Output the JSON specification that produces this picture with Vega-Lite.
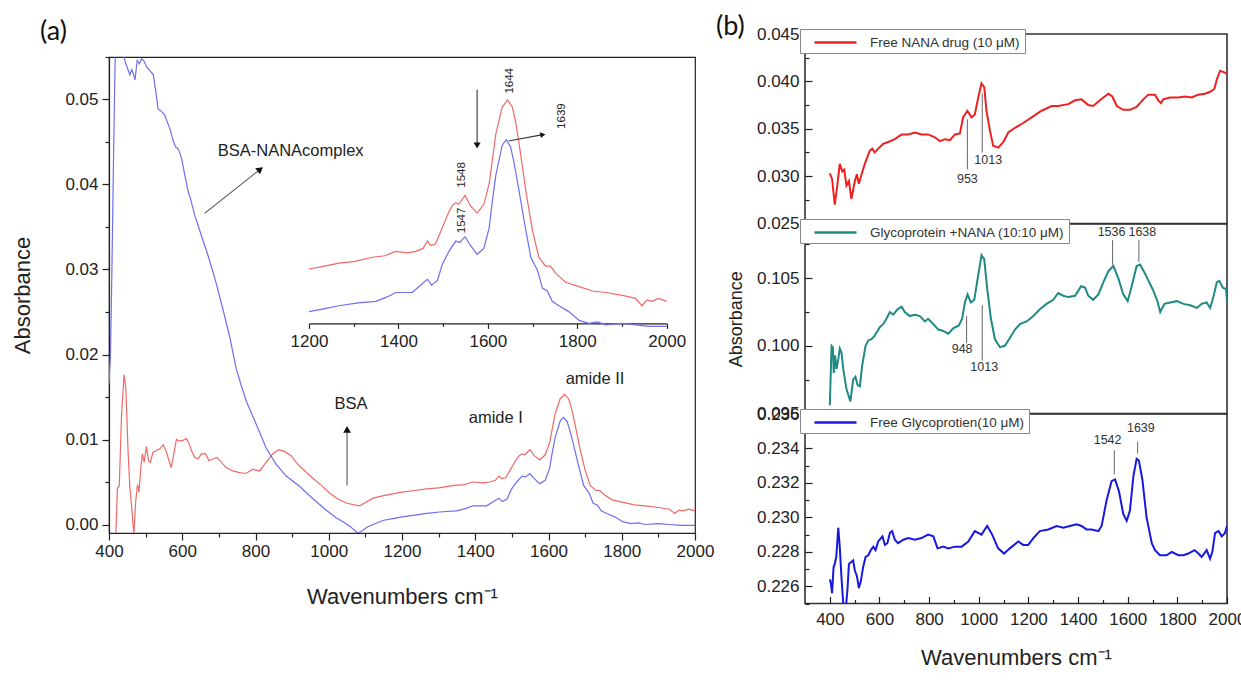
{
  "$schema": "https://vega.github.io/schema/vega-lite/v6.json",
  "background": "white",
  "padding": {"left": 11, "top": 12, "right": 0, "bottom": 0},
  "spacing": 0,
  "bounds": "full",
  "align": "none",
  "config": {
    "font": "Liberation Sans",
    "view": {"stroke": "#222", "strokeWidth": 1.2},
    "axis": {"grid": false, "domainColor": "#222", "tickColor": "#222", "labelColor": "#222", "titleColor": "#222", "labelFont": "Liberation Sans", "titleFont": "Liberation Sans", "titleFontWeight": "normal", "labelFlush": false, "labelOverlap": false, "domainWidth": 1.2, "tickWidth": 1.2},
    "title": {"fontWeight": "normal", "color": "#111"}
  },
  "datasets": {
    "spec_a": [
      {"series": "BSA", "wn": 418, "abs": -0.002},
      {"series": "BSA", "wn": 423, "abs": 0.0043},
      {"series": "BSA", "wn": 428, "abs": 0.0045},
      {"series": "BSA", "wn": 434, "abs": 0.0126},
      {"series": "BSA", "wn": 441, "abs": 0.0176},
      {"series": "BSA", "wn": 446, "abs": 0.0160},
      {"series": "BSA", "wn": 452, "abs": 0.0087},
      {"series": "BSA", "wn": 457, "abs": 0.0043},
      {"series": "BSA", "wn": 462, "abs": 0.0020},
      {"series": "BSA", "wn": 468, "abs": -0.0012},
      {"series": "BSA", "wn": 473, "abs": 0.0028},
      {"series": "BSA", "wn": 478, "abs": 0.0047},
      {"series": "BSA", "wn": 482, "abs": 0.0038},
      {"series": "BSA", "wn": 487, "abs": 0.0067},
      {"series": "BSA", "wn": 491, "abs": 0.0083},
      {"series": "BSA", "wn": 496, "abs": 0.0073},
      {"series": "BSA", "wn": 502, "abs": 0.0092},
      {"series": "BSA", "wn": 508, "abs": 0.0075},
      {"series": "BSA", "wn": 513, "abs": 0.0073},
      {"series": "BSA", "wn": 520, "abs": 0.0085},
      {"series": "BSA", "wn": 530, "abs": 0.0087},
      {"series": "BSA", "wn": 539, "abs": 0.0089},
      {"series": "BSA", "wn": 548, "abs": 0.0094},
      {"series": "BSA", "wn": 557, "abs": 0.0085},
      {"series": "BSA", "wn": 564, "abs": 0.0075},
      {"series": "BSA", "wn": 570, "abs": 0.0067},
      {"series": "BSA", "wn": 577, "abs": 0.0083},
      {"series": "BSA", "wn": 584, "abs": 0.0100},
      {"series": "BSA", "wn": 593, "abs": 0.0098},
      {"series": "BSA", "wn": 602, "abs": 0.0099},
      {"series": "BSA", "wn": 611, "abs": 0.0101},
      {"series": "BSA", "wn": 618, "abs": 0.0096},
      {"series": "BSA", "wn": 625, "abs": 0.0087},
      {"series": "BSA", "wn": 634, "abs": 0.0079},
      {"series": "BSA", "wn": 643, "abs": 0.0077},
      {"series": "BSA", "wn": 652, "abs": 0.0083},
      {"series": "BSA", "wn": 664, "abs": 0.0083},
      {"series": "BSA", "wn": 673, "abs": 0.0075},
      {"series": "BSA", "wn": 684, "abs": 0.0077},
      {"series": "BSA", "wn": 695, "abs": 0.0079},
      {"series": "BSA", "wn": 707, "abs": 0.0073},
      {"series": "BSA", "wn": 720, "abs": 0.0067},
      {"series": "BSA", "wn": 738, "abs": 0.0063},
      {"series": "BSA", "wn": 756, "abs": 0.0061},
      {"series": "BSA", "wn": 774, "abs": 0.0060},
      {"series": "BSA", "wn": 793, "abs": 0.0065},
      {"series": "BSA", "wn": 811, "abs": 0.0063},
      {"series": "BSA", "wn": 829, "abs": 0.0073},
      {"series": "BSA", "wn": 847, "abs": 0.0083},
      {"series": "BSA", "wn": 863, "abs": 0.0088},
      {"series": "BSA", "wn": 879, "abs": 0.0086},
      {"series": "BSA", "wn": 897, "abs": 0.0081},
      {"series": "BSA", "wn": 915, "abs": 0.0071},
      {"series": "BSA", "wn": 935, "abs": 0.0063},
      {"series": "BSA", "wn": 955, "abs": 0.0055},
      {"series": "BSA", "wn": 980, "abs": 0.0046},
      {"series": "BSA", "wn": 1002, "abs": 0.0037},
      {"series": "BSA", "wn": 1025, "abs": 0.0030},
      {"series": "BSA", "wn": 1050, "abs": 0.0025},
      {"series": "BSA", "wn": 1070, "abs": 0.0023},
      {"series": "BSA", "wn": 1085, "abs": 0.0022},
      {"series": "BSA", "wn": 1100, "abs": 0.0026},
      {"series": "BSA", "wn": 1121, "abs": 0.0031},
      {"series": "BSA", "wn": 1150, "abs": 0.0034},
      {"series": "BSA", "wn": 1175, "abs": 0.0036},
      {"series": "BSA", "wn": 1200, "abs": 0.0038},
      {"series": "BSA", "wn": 1235, "abs": 0.0040},
      {"series": "BSA", "wn": 1267, "abs": 0.0042},
      {"series": "BSA", "wn": 1300, "abs": 0.0043},
      {"series": "BSA", "wn": 1342, "abs": 0.0046},
      {"series": "BSA", "wn": 1370, "abs": 0.0047},
      {"series": "BSA", "wn": 1394, "abs": 0.0050},
      {"series": "BSA", "wn": 1420, "abs": 0.0049},
      {"series": "BSA", "wn": 1439, "abs": 0.0050},
      {"series": "BSA", "wn": 1455, "abs": 0.0052},
      {"series": "BSA", "wn": 1465, "abs": 0.0057},
      {"series": "BSA", "wn": 1472, "abs": 0.0054},
      {"series": "BSA", "wn": 1483, "abs": 0.0055},
      {"series": "BSA", "wn": 1498, "abs": 0.0066},
      {"series": "BSA", "wn": 1513, "abs": 0.0077},
      {"series": "BSA", "wn": 1520, "abs": 0.0081},
      {"series": "BSA", "wn": 1528, "abs": 0.0083},
      {"series": "BSA", "wn": 1535, "abs": 0.0082},
      {"series": "BSA", "wn": 1549, "abs": 0.0088},
      {"series": "BSA", "wn": 1561, "abs": 0.0081},
      {"series": "BSA", "wn": 1576, "abs": 0.0076},
      {"series": "BSA", "wn": 1591, "abs": 0.0082},
      {"series": "BSA", "wn": 1603, "abs": 0.0096},
      {"series": "BSA", "wn": 1610, "abs": 0.0112},
      {"series": "BSA", "wn": 1618, "abs": 0.0130},
      {"series": "BSA", "wn": 1632, "abs": 0.0148},
      {"series": "BSA", "wn": 1644, "abs": 0.0153},
      {"series": "BSA", "wn": 1655, "abs": 0.0148},
      {"series": "BSA", "wn": 1662, "abs": 0.0138},
      {"series": "BSA", "wn": 1670, "abs": 0.0123},
      {"series": "BSA", "wn": 1685, "abs": 0.0091},
      {"series": "BSA", "wn": 1700, "abs": 0.0064},
      {"series": "BSA", "wn": 1714, "abs": 0.0046},
      {"series": "BSA", "wn": 1729, "abs": 0.0040},
      {"series": "BSA", "wn": 1740, "abs": 0.0040},
      {"series": "BSA", "wn": 1752, "abs": 0.0035},
      {"series": "BSA", "wn": 1774, "abs": 0.0029},
      {"series": "BSA", "wn": 1804, "abs": 0.0026},
      {"series": "BSA", "wn": 1834, "abs": 0.0023},
      {"series": "BSA", "wn": 1864, "abs": 0.0022},
      {"series": "BSA", "wn": 1901, "abs": 0.0020},
      {"series": "BSA", "wn": 1930, "abs": 0.0018},
      {"series": "BSA", "wn": 1945, "abs": 0.0013},
      {"series": "BSA", "wn": 1956, "abs": 0.0017},
      {"series": "BSA", "wn": 1967, "abs": 0.0016},
      {"series": "BSA", "wn": 1982, "abs": 0.0018},
      {"series": "BSA", "wn": 2000, "abs": 0.0016},
      {"series": "BSA-NANA complex", "wn": 400, "abs": 0.0165},
      {"series": "BSA-NANA complex", "wn": 404, "abs": 0.020},
      {"series": "BSA-NANA complex", "wn": 408, "abs": 0.030},
      {"series": "BSA-NANA complex", "wn": 412, "abs": 0.042},
      {"series": "BSA-NANA complex", "wn": 416, "abs": 0.053},
      {"series": "BSA-NANA complex", "wn": 420, "abs": 0.060},
      {"series": "BSA-NANA complex", "wn": 430, "abs": 0.057},
      {"series": "BSA-NANA complex", "wn": 438, "abs": 0.0555},
      {"series": "BSA-NANA complex", "wn": 446, "abs": 0.0542},
      {"series": "BSA-NANA complex", "wn": 452, "abs": 0.0535},
      {"series": "BSA-NANA complex", "wn": 457, "abs": 0.0529},
      {"series": "BSA-NANA complex", "wn": 462, "abs": 0.0535},
      {"series": "BSA-NANA complex", "wn": 466, "abs": 0.0531},
      {"series": "BSA-NANA complex", "wn": 471, "abs": 0.0523},
      {"series": "BSA-NANA complex", "wn": 477, "abs": 0.0546},
      {"series": "BSA-NANA complex", "wn": 483, "abs": 0.0542},
      {"series": "BSA-NANA complex", "wn": 489, "abs": 0.0548},
      {"series": "BSA-NANA complex", "wn": 496, "abs": 0.0545},
      {"series": "BSA-NANA complex", "wn": 503, "abs": 0.0538},
      {"series": "BSA-NANA complex", "wn": 512, "abs": 0.0534},
      {"series": "BSA-NANA complex", "wn": 521, "abs": 0.0529},
      {"series": "BSA-NANA complex", "wn": 528, "abs": 0.0509},
      {"series": "BSA-NANA complex", "wn": 534, "abs": 0.0489},
      {"series": "BSA-NANA complex", "wn": 543, "abs": 0.0486},
      {"series": "BSA-NANA complex", "wn": 552, "abs": 0.0482},
      {"series": "BSA-NANA complex", "wn": 557, "abs": 0.0476},
      {"series": "BSA-NANA complex", "wn": 566, "abs": 0.0466},
      {"series": "BSA-NANA complex", "wn": 575, "abs": 0.0452},
      {"series": "BSA-NANA complex", "wn": 582, "abs": 0.0444},
      {"series": "BSA-NANA complex", "wn": 589, "abs": 0.0442},
      {"series": "BSA-NANA complex", "wn": 598, "abs": 0.0431},
      {"series": "BSA-NANA complex", "wn": 607, "abs": 0.0411},
      {"series": "BSA-NANA complex", "wn": 616, "abs": 0.0392},
      {"series": "BSA-NANA complex", "wn": 622, "abs": 0.0384},
      {"series": "BSA-NANA complex", "wn": 634, "abs": 0.0364},
      {"series": "BSA-NANA complex", "wn": 650, "abs": 0.0343},
      {"series": "BSA-NANA complex", "wn": 670, "abs": 0.0317},
      {"series": "BSA-NANA complex", "wn": 690, "abs": 0.0288},
      {"series": "BSA-NANA complex", "wn": 710, "abs": 0.0255},
      {"series": "BSA-NANA complex", "wn": 730, "abs": 0.0220},
      {"series": "BSA-NANA complex", "wn": 747, "abs": 0.0184},
      {"series": "BSA-NANA complex", "wn": 760, "abs": 0.0165},
      {"series": "BSA-NANA complex", "wn": 775, "abs": 0.0145},
      {"series": "BSA-NANA complex", "wn": 802, "abs": 0.0118},
      {"series": "BSA-NANA complex", "wn": 829, "abs": 0.0090},
      {"series": "BSA-NANA complex", "wn": 856, "abs": 0.0071},
      {"series": "BSA-NANA complex", "wn": 884, "abs": 0.0057},
      {"series": "BSA-NANA complex", "wn": 920, "abs": 0.0045},
      {"series": "BSA-NANA complex", "wn": 950, "abs": 0.0033},
      {"series": "BSA-NANA complex", "wn": 990, "abs": 0.0018},
      {"series": "BSA-NANA complex", "wn": 1020, "abs": 0.0008},
      {"series": "BSA-NANA complex", "wn": 1040, "abs": 0.0003},
      {"series": "BSA-NANA complex", "wn": 1060, "abs": -0.0003},
      {"series": "BSA-NANA complex", "wn": 1079, "abs": -0.0010},
      {"series": "BSA-NANA complex", "wn": 1090, "abs": -0.0008},
      {"series": "BSA-NANA complex", "wn": 1105, "abs": -0.0003},
      {"series": "BSA-NANA complex", "wn": 1121, "abs": 0.0000},
      {"series": "BSA-NANA complex", "wn": 1150, "abs": 0.0005},
      {"series": "BSA-NANA complex", "wn": 1175, "abs": 0.0007},
      {"series": "BSA-NANA complex", "wn": 1200, "abs": 0.0009},
      {"series": "BSA-NANA complex", "wn": 1235, "abs": 0.0011},
      {"series": "BSA-NANA complex", "wn": 1267, "abs": 0.0013},
      {"series": "BSA-NANA complex", "wn": 1310, "abs": 0.0015},
      {"series": "BSA-NANA complex", "wn": 1349, "abs": 0.0016},
      {"series": "BSA-NANA complex", "wn": 1375, "abs": 0.0019},
      {"series": "BSA-NANA complex", "wn": 1394, "abs": 0.0022},
      {"series": "BSA-NANA complex", "wn": 1431, "abs": 0.0022},
      {"series": "BSA-NANA complex", "wn": 1453, "abs": 0.0028},
      {"series": "BSA-NANA complex", "wn": 1465, "abs": 0.0031},
      {"series": "BSA-NANA complex", "wn": 1474, "abs": 0.0027},
      {"series": "BSA-NANA complex", "wn": 1487, "abs": 0.0030},
      {"series": "BSA-NANA complex", "wn": 1498, "abs": 0.0041},
      {"series": "BSA-NANA complex", "wn": 1513, "abs": 0.0050},
      {"series": "BSA-NANA complex", "wn": 1528, "abs": 0.0057},
      {"series": "BSA-NANA complex", "wn": 1537, "abs": 0.0056},
      {"series": "BSA-NANA complex", "wn": 1549, "abs": 0.0060},
      {"series": "BSA-NANA complex", "wn": 1561, "abs": 0.0054},
      {"series": "BSA-NANA complex", "wn": 1576, "abs": 0.0048},
      {"series": "BSA-NANA complex", "wn": 1591, "abs": 0.0052},
      {"series": "BSA-NANA complex", "wn": 1603, "abs": 0.0066},
      {"series": "BSA-NANA complex", "wn": 1610, "abs": 0.0084},
      {"series": "BSA-NANA complex", "wn": 1618, "abs": 0.0102},
      {"series": "BSA-NANA complex", "wn": 1632, "abs": 0.0122},
      {"series": "BSA-NANA complex", "wn": 1641, "abs": 0.0126},
      {"series": "BSA-NANA complex", "wn": 1651, "abs": 0.0121},
      {"series": "BSA-NANA complex", "wn": 1658, "abs": 0.0111},
      {"series": "BSA-NANA complex", "wn": 1666, "abs": 0.0098},
      {"series": "BSA-NANA complex", "wn": 1681, "abs": 0.0071},
      {"series": "BSA-NANA complex", "wn": 1696, "abs": 0.0046},
      {"series": "BSA-NANA complex", "wn": 1711, "abs": 0.0037},
      {"series": "BSA-NANA complex", "wn": 1722, "abs": 0.0025},
      {"series": "BSA-NANA complex", "wn": 1733, "abs": 0.0023},
      {"series": "BSA-NANA complex", "wn": 1744, "abs": 0.0016},
      {"series": "BSA-NANA complex", "wn": 1759, "abs": 0.0013},
      {"series": "BSA-NANA complex", "wn": 1781, "abs": 0.0009},
      {"series": "BSA-NANA complex", "wn": 1804, "abs": 0.0003},
      {"series": "BSA-NANA complex", "wn": 1826, "abs": 0.0001},
      {"series": "BSA-NANA complex", "wn": 1845, "abs": 0.0002},
      {"series": "BSA-NANA complex", "wn": 1864, "abs": 0.0000},
      {"series": "BSA-NANA complex", "wn": 1900, "abs": 0.0001},
      {"series": "BSA-NANA complex", "wn": 1930, "abs": 0.0000},
      {"series": "BSA-NANA complex", "wn": 1960, "abs": -0.0001},
      {"series": "BSA-NANA complex", "wn": 2000, "abs": -0.0001}
    ],
    "ann_a": [
      {"wn": 896, "abs": 0.0440, "t": "BSA-NANAcomplex"},
      {"wn": 1061, "abs": 0.0142, "t": "BSA"},
      {"wn": 1456, "abs": 0.0125, "t": "amide I"},
      {"wn": 1727, "abs": 0.0171, "t": "amide II"}
    ],
    "arrows_a": [
      {"id": "complex", "wn": 661, "abs": 0.0366, "wn2": 813, "abs2": 0.0418},
      {"id": "bsa", "wn": 1050, "abs": 0.0046, "wn2": 1050, "abs2": 0.0112}
    ],
    "heads_a": [
      {"id": "complex", "wn": 813, "abs": 0.0418},
      {"id": "bsa", "wn": 1050, "abs": 0.0112}
    ],
    "ann_inset": [
      {"wn": 1649, "abs": 0.0166, "t": "1644"},
      {"wn": 1766, "abs": 0.0142, "t": "1639"},
      {"wn": 1543, "abs": 0.0102, "t": "1548"},
      {"wn": 1543, "abs": 0.0071, "t": "1547"}
    ],
    "arrows_inset": [
      {"id": "down", "wn": 1576, "abs": 0.0160, "wn2": 1576, "abs2": 0.0122},
      {"id": "right", "wn": 1646.6, "abs": 0.01251, "wn2": 1723, "abs2": 0.01294}
    ],
    "heads_inset": [
      {"id": "down", "wn": 1576, "abs": 0.0122},
      {"id": "right", "wn": 1723, "abs": 0.01294}
    ],
    "b1": [
      {"wn": 400, "abs": 0.0303}, {"wn": 409, "abs": 0.0297}, {"wn": 420, "abs": 0.0270}, {"wn": 431, "abs": 0.0292},
      {"wn": 440, "abs": 0.0313}, {"wn": 450, "abs": 0.0305}, {"wn": 458, "abs": 0.0307}, {"wn": 467, "abs": 0.0290},
      {"wn": 477, "abs": 0.0295}, {"wn": 487, "abs": 0.0276}, {"wn": 501, "abs": 0.0295}, {"wn": 509, "abs": 0.0302},
      {"wn": 517, "abs": 0.0292}, {"wn": 528, "abs": 0.0302}, {"wn": 541, "abs": 0.0313}, {"wn": 561, "abs": 0.0327},
      {"wn": 571, "abs": 0.0329}, {"wn": 581, "abs": 0.0325}, {"wn": 595, "abs": 0.0329}, {"wn": 615, "abs": 0.0334},
      {"wn": 635, "abs": 0.0336}, {"wn": 662, "abs": 0.0339}, {"wn": 689, "abs": 0.0344}, {"wn": 716, "abs": 0.0344},
      {"wn": 743, "abs": 0.0346}, {"wn": 770, "abs": 0.0344}, {"wn": 796, "abs": 0.0344}, {"wn": 823, "abs": 0.0341},
      {"wn": 843, "abs": 0.0337}, {"wn": 864, "abs": 0.0339}, {"wn": 884, "abs": 0.0338}, {"wn": 904, "abs": 0.0344},
      {"wn": 924, "abs": 0.0345}, {"wn": 937, "abs": 0.0362}, {"wn": 954, "abs": 0.0369}, {"wn": 971, "abs": 0.0362},
      {"wn": 984, "abs": 0.0365}, {"wn": 998, "abs": 0.0383}, {"wn": 1011, "abs": 0.0398}, {"wn": 1022, "abs": 0.0394},
      {"wn": 1031, "abs": 0.0369}, {"wn": 1045, "abs": 0.0348}, {"wn": 1058, "abs": 0.0332}, {"wn": 1079, "abs": 0.0330},
      {"wn": 1099, "abs": 0.0336}, {"wn": 1119, "abs": 0.0346}, {"wn": 1146, "abs": 0.0351}, {"wn": 1173, "abs": 0.0355},
      {"wn": 1213, "abs": 0.0362}, {"wn": 1253, "abs": 0.0369}, {"wn": 1294, "abs": 0.0374}, {"wn": 1320, "abs": 0.0374},
      {"wn": 1361, "abs": 0.0376}, {"wn": 1388, "abs": 0.0380}, {"wn": 1414, "abs": 0.0381}, {"wn": 1441, "abs": 0.0375},
      {"wn": 1461, "abs": 0.0374}, {"wn": 1488, "abs": 0.0380}, {"wn": 1522, "abs": 0.0387}, {"wn": 1538, "abs": 0.0384},
      {"wn": 1556, "abs": 0.0374}, {"wn": 1582, "abs": 0.0370}, {"wn": 1609, "abs": 0.0370}, {"wn": 1636, "abs": 0.0373},
      {"wn": 1663, "abs": 0.0381}, {"wn": 1683, "abs": 0.0386}, {"wn": 1710, "abs": 0.0386}, {"wn": 1723, "abs": 0.0380},
      {"wn": 1734, "abs": 0.0377}, {"wn": 1743, "abs": 0.0381}, {"wn": 1770, "abs": 0.0383}, {"wn": 1804, "abs": 0.0383},
      {"wn": 1831, "abs": 0.0384}, {"wn": 1858, "abs": 0.0383}, {"wn": 1884, "abs": 0.0386}, {"wn": 1911, "abs": 0.0387},
      {"wn": 1932, "abs": 0.0389}, {"wn": 1949, "abs": 0.0392}, {"wn": 1959, "abs": 0.0402}, {"wn": 1972, "abs": 0.0411},
      {"wn": 1985, "abs": 0.0410}, {"wn": 1999, "abs": 0.0408}
    ],
    "b2": [
      {"wn": 400, "abs": 0.0956}, {"wn": 407, "abs": 0.1000}, {"wn": 412, "abs": 0.0999}, {"wn": 416, "abs": 0.0980},
      {"wn": 421, "abs": 0.0993}, {"wn": 427, "abs": 0.0983}, {"wn": 434, "abs": 0.0990}, {"wn": 440, "abs": 0.0998},
      {"wn": 447, "abs": 0.0995}, {"wn": 454, "abs": 0.0983}, {"wn": 467, "abs": 0.0968}, {"wn": 483, "abs": 0.0959},
      {"wn": 494, "abs": 0.0975}, {"wn": 503, "abs": 0.0977}, {"wn": 512, "abs": 0.0971}, {"wn": 521, "abs": 0.0970},
      {"wn": 530, "abs": 0.0985}, {"wn": 544, "abs": 0.1000}, {"wn": 555, "abs": 0.1004}, {"wn": 568, "abs": 0.1005},
      {"wn": 579, "abs": 0.1007}, {"wn": 592, "abs": 0.1011}, {"wn": 602, "abs": 0.1014}, {"wn": 615, "abs": 0.1016},
      {"wn": 628, "abs": 0.1020}, {"wn": 642, "abs": 0.1025}, {"wn": 655, "abs": 0.1023}, {"wn": 673, "abs": 0.1027},
      {"wn": 689, "abs": 0.1029}, {"wn": 702, "abs": 0.1025}, {"wn": 722, "abs": 0.1022}, {"wn": 743, "abs": 0.1023},
      {"wn": 763, "abs": 0.1022}, {"wn": 783, "abs": 0.1018}, {"wn": 796, "abs": 0.1020}, {"wn": 817, "abs": 0.1016},
      {"wn": 837, "abs": 0.1012}, {"wn": 857, "abs": 0.1011}, {"wn": 877, "abs": 0.1009}, {"wn": 897, "abs": 0.1013},
      {"wn": 920, "abs": 0.1015}, {"wn": 933, "abs": 0.1020}, {"wn": 944, "abs": 0.1032}, {"wn": 955, "abs": 0.1038},
      {"wn": 968, "abs": 0.1032}, {"wn": 982, "abs": 0.1034}, {"wn": 995, "abs": 0.1049}, {"wn": 1011, "abs": 0.1067},
      {"wn": 1022, "abs": 0.1064}, {"wn": 1034, "abs": 0.1042}, {"wn": 1049, "abs": 0.1020}, {"wn": 1065, "abs": 0.1005},
      {"wn": 1085, "abs": 0.0999}, {"wn": 1105, "abs": 0.1000}, {"wn": 1126, "abs": 0.1006}, {"wn": 1146, "abs": 0.1012},
      {"wn": 1166, "abs": 0.1016}, {"wn": 1193, "abs": 0.1018}, {"wn": 1220, "abs": 0.1022}, {"wn": 1246, "abs": 0.1027},
      {"wn": 1273, "abs": 0.1031}, {"wn": 1300, "abs": 0.1034}, {"wn": 1320, "abs": 0.1039}, {"wn": 1340, "abs": 0.1037},
      {"wn": 1361, "abs": 0.1036}, {"wn": 1388, "abs": 0.1037}, {"wn": 1412, "abs": 0.1044}, {"wn": 1428, "abs": 0.1043},
      {"wn": 1441, "abs": 0.1037}, {"wn": 1461, "abs": 0.1034}, {"wn": 1482, "abs": 0.1038}, {"wn": 1502, "abs": 0.1047},
      {"wn": 1522, "abs": 0.1055}, {"wn": 1542, "abs": 0.1059}, {"wn": 1562, "abs": 0.1050}, {"wn": 1582, "abs": 0.1038},
      {"wn": 1600, "abs": 0.1033}, {"wn": 1616, "abs": 0.1044}, {"wn": 1636, "abs": 0.1059}, {"wn": 1650, "abs": 0.1060},
      {"wn": 1668, "abs": 0.1054}, {"wn": 1684, "abs": 0.1048}, {"wn": 1700, "abs": 0.1042}, {"wn": 1718, "abs": 0.1034},
      {"wn": 1731, "abs": 0.1025}, {"wn": 1748, "abs": 0.1031}, {"wn": 1771, "abs": 0.1032}, {"wn": 1798, "abs": 0.1033},
      {"wn": 1825, "abs": 0.1031}, {"wn": 1852, "abs": 0.1030}, {"wn": 1879, "abs": 0.1028}, {"wn": 1898, "abs": 0.1031},
      {"wn": 1918, "abs": 0.1032}, {"wn": 1932, "abs": 0.1028}, {"wn": 1945, "abs": 0.1036}, {"wn": 1959, "abs": 0.1047},
      {"wn": 1969, "abs": 0.1048}, {"wn": 1983, "abs": 0.1043}, {"wn": 1996, "abs": 0.1042}, {"wn": 2000, "abs": 0.1033}
    ],
    "b3": [
      {"wn": 400, "abs": 0.2264}, {"wn": 404, "abs": 0.2262}, {"wn": 409, "abs": 0.2256}, {"wn": 415, "abs": 0.2271},
      {"wn": 420, "abs": 0.2273}, {"wn": 426, "abs": 0.2277}, {"wn": 434, "abs": 0.2294}, {"wn": 440, "abs": 0.2283},
      {"wn": 447, "abs": 0.2265}, {"wn": 454, "abs": 0.2250}, {"wn": 463, "abs": 0.2245}, {"wn": 471, "abs": 0.2258},
      {"wn": 477, "abs": 0.2273}, {"wn": 485, "abs": 0.2274}, {"wn": 494, "abs": 0.2275}, {"wn": 501, "abs": 0.2269},
      {"wn": 509, "abs": 0.2266}, {"wn": 517, "abs": 0.2259}, {"wn": 525, "abs": 0.2263}, {"wn": 534, "abs": 0.2271},
      {"wn": 544, "abs": 0.2277}, {"wn": 555, "abs": 0.2278}, {"wn": 565, "abs": 0.2281}, {"wn": 575, "abs": 0.2283},
      {"wn": 584, "abs": 0.2281}, {"wn": 595, "abs": 0.2286}, {"wn": 606, "abs": 0.2288}, {"wn": 612, "abs": 0.2289},
      {"wn": 622, "abs": 0.2284}, {"wn": 632, "abs": 0.2285}, {"wn": 642, "abs": 0.2291}, {"wn": 651, "abs": 0.2292},
      {"wn": 662, "abs": 0.2287}, {"wn": 675, "abs": 0.2285}, {"wn": 696, "abs": 0.2287}, {"wn": 716, "abs": 0.2288},
      {"wn": 743, "abs": 0.2287}, {"wn": 769, "abs": 0.2288}, {"wn": 796, "abs": 0.2290}, {"wn": 817, "abs": 0.2289},
      {"wn": 834, "abs": 0.2282}, {"wn": 857, "abs": 0.2283}, {"wn": 877, "abs": 0.2282}, {"wn": 904, "abs": 0.2283},
      {"wn": 931, "abs": 0.2283}, {"wn": 958, "abs": 0.2286}, {"wn": 984, "abs": 0.2292}, {"wn": 1011, "abs": 0.2290},
      {"wn": 1034, "abs": 0.2295}, {"wn": 1054, "abs": 0.2290}, {"wn": 1078, "abs": 0.2282}, {"wn": 1102, "abs": 0.2279},
      {"wn": 1125, "abs": 0.2282}, {"wn": 1159, "abs": 0.2286}, {"wn": 1179, "abs": 0.2284}, {"wn": 1199, "abs": 0.2284},
      {"wn": 1220, "abs": 0.2288}, {"wn": 1246, "abs": 0.2292}, {"wn": 1280, "abs": 0.2293}, {"wn": 1314, "abs": 0.2295},
      {"wn": 1341, "abs": 0.2294}, {"wn": 1367, "abs": 0.2295}, {"wn": 1394, "abs": 0.2296}, {"wn": 1414, "abs": 0.2295},
      {"wn": 1434, "abs": 0.2293}, {"wn": 1455, "abs": 0.2293}, {"wn": 1482, "abs": 0.2292}, {"wn": 1495, "abs": 0.2295},
      {"wn": 1515, "abs": 0.2310}, {"wn": 1535, "abs": 0.2321}, {"wn": 1549, "abs": 0.2322}, {"wn": 1565, "abs": 0.2315},
      {"wn": 1582, "abs": 0.2302}, {"wn": 1596, "abs": 0.2298}, {"wn": 1609, "abs": 0.2304}, {"wn": 1623, "abs": 0.2324},
      {"wn": 1636, "abs": 0.2334}, {"wn": 1645, "abs": 0.2333}, {"wn": 1659, "abs": 0.2322}, {"wn": 1676, "abs": 0.2300},
      {"wn": 1697, "abs": 0.2285}, {"wn": 1710, "abs": 0.2281}, {"wn": 1730, "abs": 0.2278}, {"wn": 1757, "abs": 0.2278},
      {"wn": 1777, "abs": 0.2280}, {"wn": 1804, "abs": 0.2278}, {"wn": 1825, "abs": 0.2278}, {"wn": 1844, "abs": 0.2279},
      {"wn": 1869, "abs": 0.2281}, {"wn": 1885, "abs": 0.2279}, {"wn": 1898, "abs": 0.2277}, {"wn": 1918, "abs": 0.2281},
      {"wn": 1932, "abs": 0.2276}, {"wn": 1941, "abs": 0.2280}, {"wn": 1952, "abs": 0.2291}, {"wn": 1966, "abs": 0.2292},
      {"wn": 1979, "abs": 0.2289}, {"wn": 1992, "abs": 0.2291}, {"wn": 2000, "abs": 0.2295}
    ],
    "b1_lines": [
      {"wn": 954, "abs": 0.0360, "abs2": 0.0307},
      {"wn": 1014, "abs": 0.0387, "abs2": 0.0325}
    ],
    "b1_text": [
      {"wn": 954, "abs": 0.0297, "t": "953"},
      {"wn": 1038, "abs": 0.0317, "t": "1013"}
    ],
    "b2_lines": [
      {"wn": 951, "abs": 0.1022, "abs2": 0.1002},
      {"wn": 1014, "abs": 0.1030, "abs2": 0.0989},
      {"wn": 1539, "abs": 0.1060, "abs2": 0.1078},
      {"wn": 1645, "abs": 0.1062, "abs2": 0.1078}
    ],
    "b2_text": [
      {"wn": 933, "abs": 0.0998, "t": "948"},
      {"wn": 1022, "abs": 0.0984, "t": "1013"},
      {"wn": 1535, "abs": 0.1084, "t": "1536"},
      {"wn": 1659, "abs": 0.1084, "t": "1638"}
    ],
    "b3_lines": [
      {"wn": 1546, "abs": 0.2325, "abs2": 0.2339},
      {"wn": 1640, "abs": 0.2337, "abs2": 0.2344}
    ],
    "b3_text": [
      {"wn": 1519, "abs": 0.2345, "t": "1542"},
      {"wn": 1653, "abs": 0.2352, "t": "1639"}
    ]
  },
  "hconcat": [
    {
      "spacing": 0,
      "bounds": "flush",
      "vconcat": [
        {
          "width": 586,
          "height": 22.6,
          "view": {"stroke": null},
          "title": {"text": "(a)", "anchor": "start", "frame": "group", "dx": -69, "offset": -12, "fontSize": 27, "font": "Lato"},
          "data": {"values": [{"k": 0}]},
          "mark": {"type": "point", "opacity": 0},
          "encoding": {}
        },
        {
          "width": 586,
          "height": 476,
          "resolve": {"scale": {"x": "independent", "y": "independent"}},
          "layer": [
            {
              "encoding": {
                "x": {"field": "wn", "type": "quantitative", "scale": {"domain": [400, 2000], "nice": false, "zero": false},
                  "axis": {"values": [400, 500, 600, 700, 800, 900, 1000, 1100, 1200, 1300, 1400, 1500, 1600, 1700, 1800, 1900, 2000], "format": "d",
                    "labelExpr": "datum.value % 200 == 0 ? datum.label : ''",
                    "tickSize": {"condition": {"test": "datum.value % 200 == 0", "value": 7}, "value": 4},
                    "labelFontSize": 17, "labelPadding": 3, "title": "Wavenumbers cm⁻¹", "titleFontSize": 22, "titlePadding": 27}},
                "y": {"field": "abs", "type": "quantitative", "scale": {"domain": [-0.001, 0.055], "nice": false, "zero": false},
                  "axis": {"values": [0, 0.005, 0.01, 0.015, 0.02, 0.025, 0.03, 0.035, 0.04, 0.045, 0.05, 0.055],
                    "labelExpr": "round(datum.value*1000) % 10 == 0 ? format(datum.value, '.2f') : ''",
                    "tickSize": {"condition": {"test": "round(datum.value*1000) % 10 == 0", "value": 7}, "value": 4},
                    "labelFontSize": 17, "labelPadding": 4, "title": "Absorbance", "titleFontSize": 22, "titlePadding": 30}}
              },
              "layer": [
                {"data": {"name": "spec_a"}, "mark": {"type": "line", "clip": true, "strokeWidth": 1.2},
                  "encoding": {"color": {"field": "series", "type": "nominal", "scale": {"domain": ["BSA", "BSA-NANA complex"], "range": ["#f06868", "#6e6ef0"]}, "legend": null}}},
                {"data": {"name": "ann_a"}, "mark": {"type": "text", "fontSize": 16.5, "color": "#222"},
                  "encoding": {"text": {"field": "t", "type": "nominal"}}},
                {"data": {"name": "arrows_a"}, "mark": {"type": "rule", "color": "#555", "strokeWidth": 1.1},
                  "encoding": {"x2": {"field": "wn2"}, "y2": {"field": "abs2"}}},
                {"data": {"name": "heads_a"}, "transform": [{"filter": "datum.id == 'complex'"}],
                  "mark": {"type": "point", "shape": "triangle-up", "filled": true, "size": 60, "angle": 52, "color": "#111", "opacity": 1}},
                {"data": {"name": "heads_a"}, "transform": [{"filter": "datum.id == 'bsa'"}],
                  "mark": {"type": "point", "shape": "triangle-up", "filled": true, "size": 60, "angle": 0, "color": "#111", "opacity": 1}}
              ]
            },
            {
              "encoding": {
                "x": {"field": "wn", "type": "quantitative", "scale": {"domain": [1200, 2000], "range": [200, 557.7], "nice": false, "zero": false},
                  "axis": {"orient": "bottom", "offset": -209.6, "values": [1200, 1300, 1400, 1500, 1600, 1700, 1800, 1900, 2000], "format": "d",
                    "labelExpr": "datum.value % 200 == 0 ? datum.label : ''",
                    "tickSize": {"condition": {"test": "datum.value % 200 == 0", "value": 5}, "value": 3},
                    "labelFontSize": 17, "labelPadding": 5, "title": null}},
                "y": {"field": "abs", "type": "quantitative", "scale": {"domain": [-0.01416, 0.01822], "nice": false, "zero": false}, "axis": null}
              },
              "layer": [
                {"data": {"name": "spec_a"}, "transform": [{"filter": "datum.wn >= 1200"}], "mark": {"type": "line", "strokeWidth": 1.2},
                  "encoding": {"color": {"field": "series", "type": "nominal", "scale": {"domain": ["BSA", "BSA-NANA complex"], "range": ["#f06868", "#6e6ef0"]}, "legend": null}}},
                {"data": {"name": "ann_inset"}, "mark": {"type": "text", "fontSize": 11.5, "angle": 270, "color": "#222"},
                  "encoding": {"text": {"field": "t", "type": "nominal"}}},
                {"data": {"name": "arrows_inset"}, "mark": {"type": "rule", "color": "#333", "strokeWidth": 1.1},
                  "encoding": {"x2": {"field": "wn2"}, "y2": {"field": "abs2"}}},
                {"data": {"name": "heads_inset"}, "transform": [{"filter": "datum.id == 'down'"}],
                  "mark": {"type": "point", "shape": "triangle-up", "filled": true, "size": 50, "angle": 180, "color": "#111", "opacity": 1}},
                {"data": {"name": "heads_inset"}, "transform": [{"filter": "datum.id == 'right'"}],
                  "mark": {"type": "point", "shape": "triangle-up", "filled": true, "size": 35, "angle": 79, "color": "#111", "opacity": 1}}
              ]
            }
          ]
        }
      ]
    },
    {
      "spacing": 0,
      "bounds": "flush",
      "resolve": {"scale": {"color": "independent"}, "legend": {"color": "independent"}},
      "vconcat": [
        {
          "width": 422,
          "height": 189.5,
          "view": {"stroke": "#333", "strokeWidth": 1.6},
          "title": {"text": "(b)", "anchor": "start", "frame": "group", "dx": -89, "offset": -16, "fontSize": 27, "font": "Lato"},
          "encoding": {
            "x": {"field": "wn", "type": "quantitative", "scale": {"domain": [300, 2000], "nice": false, "zero": false}, "axis": null},
            "y": {"field": "abs", "type": "quantitative", "scale": {"domain": [0.025, 0.045], "nice": false, "zero": false},
              "axis": {"values": [0.025, 0.0275, 0.03, 0.0325, 0.035, 0.0375, 0.04, 0.0425, 0.045],
                "labelExpr": "round(datum.value*10000) % 50 == 0 ? format(datum.value, '.3f') : ''",
                "tickSize": {"condition": {"test": "round(datum.value*10000) % 50 == 0", "value": -7}, "value": -4},
                "labelFontSize": 17, "labelPadding": 13, "title": null, "domain": false}}
          },
          "layer": [
            {"data": {"name": "b1"}, "mark": {"type": "line", "strokeWidth": 2, "clip": true},
              "encoding": {"color": {"datum": "Free NANA drug (10 μM)", "type": "nominal", "scale": {"range": ["#ee2020"]},
                "legend": {"orient": "top-left", "offset": -5, "title": null, "symbolType": "M-2.625,0H2.625", "symbolSize": 256, "symbolStrokeWidth": 2.5,
                  "labelFontSize": 13.5, "labelLimit": 400, "labelColor": "#333", "fillColor": "white", "strokeColor": "#888", "padding": 4, "symbolOffset": 22, "labelOffset": 25}}}},
            {"data": {"name": "b1_lines"}, "mark": {"type": "rule", "color": "#555", "strokeWidth": 0.9},
              "encoding": {"y2": {"field": "abs2"}}},
            {"data": {"name": "b1_text"}, "mark": {"type": "text", "fontSize": 12.5, "color": "#333"},
              "encoding": {"text": {"field": "t", "type": "nominal"}}}
          ]
        },
        {
          "width": 422,
          "height": 189.5,
          "view": {"stroke": "#333", "strokeWidth": 1.6},
          "encoding": {
            "x": {"field": "wn", "type": "quantitative", "scale": {"domain": [300, 2000], "nice": false, "zero": false}, "axis": null},
            "y": {"field": "abs", "type": "quantitative", "scale": {"domain": [0.095, 0.109], "nice": false, "zero": false},
              "axis": {"values": [0.095, 0.0975, 0.1, 0.1025, 0.105, 0.1075],
                "labelExpr": "round(datum.value*10000) % 50 == 0 ? format(datum.value, '.3f') : ''",
                "tickSize": {"condition": {"test": "round(datum.value*10000) % 50 == 0", "value": -7}, "value": -4},
                "labelFontSize": 17, "labelPadding": 13, "title": "Absorbance", "titleFontSize": 18, "titlePadding": 11, "domain": false}}
          },
          "layer": [
            {"data": {"name": "b2"}, "mark": {"type": "line", "strokeWidth": 2, "clip": true},
              "encoding": {"color": {"datum": "Glycoprotein +NANA (10:10 μM)", "type": "nominal", "scale": {"range": ["#1f8a84"]},
                "legend": {"orient": "top-left", "offset": -5, "title": null, "symbolType": "M-2.625,0H2.625", "symbolSize": 256, "symbolStrokeWidth": 2.5,
                  "labelFontSize": 13.5, "labelLimit": 400, "labelColor": "#333", "fillColor": "white", "strokeColor": "#888", "padding": 4, "symbolOffset": 22, "labelOffset": 25}}}},
            {"data": {"name": "b2_lines"}, "mark": {"type": "rule", "color": "#555", "strokeWidth": 0.9},
              "encoding": {"y2": {"field": "abs2"}}},
            {"data": {"name": "b2_text"}, "mark": {"type": "text", "fontSize": 12.5, "color": "#333"},
              "encoding": {"text": {"field": "t", "type": "nominal"}}}
          ]
        },
        {
          "width": 422,
          "height": 189.5,
          "view": {"stroke": "#333", "strokeWidth": 1.6},
          "encoding": {
            "x": {"field": "wn", "type": "quantitative", "scale": {"domain": [300, 2000], "nice": false, "zero": false},
              "axis": {"values": [400, 500, 600, 700, 800, 900, 1000, 1100, 1200, 1300, 1400, 1500, 1600, 1700, 1800, 1900, 2000], "format": "d",
                "labelExpr": "datum.value % 200 == 0 ? datum.label : ''",
                "tickSize": {"condition": {"test": "datum.value % 200 == 0", "value": -7}, "value": -4},
                "labelFontSize": 17, "labelPadding": 15, "title": "Wavenumbers cm⁻¹", "titleFontSize": 22, "titlePadding": 17, "domain": false}},
            "y": {"field": "abs", "type": "quantitative", "scale": {"domain": [0.225, 0.236], "nice": false, "zero": false},
              "axis": {"values": [0.225, 0.226, 0.227, 0.228, 0.229, 0.23, 0.231, 0.232, 0.233, 0.234, 0.235, 0.236],
                "labelExpr": "round(datum.value*1000) % 2 == 0 ? format(datum.value, '.3f') : ''",
                "tickSize": {"condition": {"test": "round(datum.value*1000) % 2 == 0", "value": -7}, "value": -4},
                "labelFontSize": 17, "labelPadding": 13, "title": null, "domain": false}}
          },
          "layer": [
            {"data": {"name": "b3"}, "mark": {"type": "line", "strokeWidth": 2, "clip": true},
              "encoding": {"color": {"datum": "Free Glycoprotien(10 μM)", "type": "nominal", "scale": {"range": ["#1818e0"]},
                "legend": {"orient": "top-left", "offset": -5, "title": null, "symbolType": "M-2.625,0H2.625", "symbolSize": 256, "symbolStrokeWidth": 2.5,
                  "labelFontSize": 13.5, "labelLimit": 400, "labelColor": "#333", "fillColor": "white", "strokeColor": "#888", "padding": 4, "symbolOffset": 22, "labelOffset": 25}}}},
            {"data": {"name": "b3_lines"}, "mark": {"type": "rule", "color": "#555", "strokeWidth": 0.9},
              "encoding": {"y2": {"field": "abs2"}}},
            {"data": {"name": "b3_text"}, "mark": {"type": "text", "fontSize": 12.5, "color": "#333"},
              "encoding": {"text": {"field": "t", "type": "nominal"}}}
          ]
        }
      ]
    }
  ]
}
